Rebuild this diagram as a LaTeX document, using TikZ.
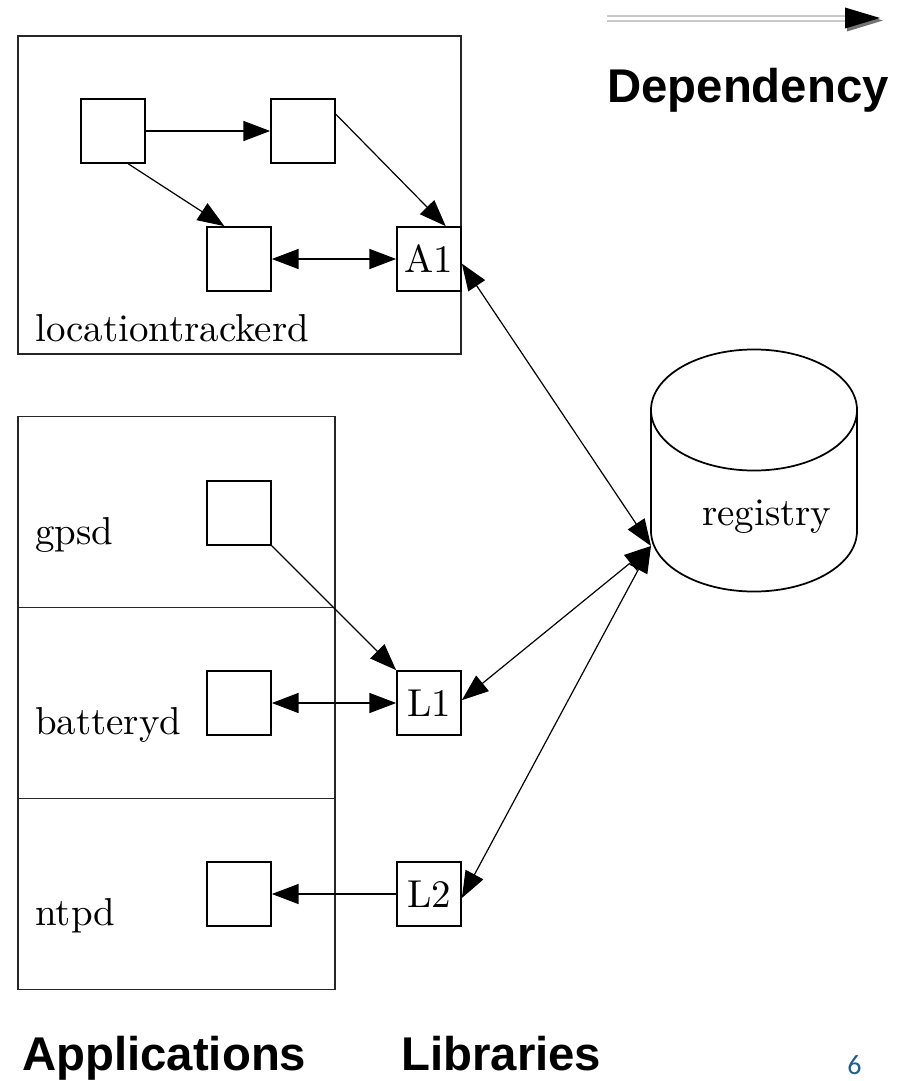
\documentclass[tikz,border=0pt]{standalone}
\usepackage{fontspec}
\newfontfamily\headfont{Liberation Sans}
\newfontfamily\numfont{Carlito}
\newfontfamily\lmten{lmroman10-regular.otf}
\usetikzlibrary{arrows.meta,calc}
\definecolor{pagenum}{RGB}{30,95,145}
\definecolor{legendline}{RGB}{200,200,200}
\newcommand\diagsize{\lmten\fontsize{29.2pt}{34pt}\selectfont}

\begin{document}
\begin{tikzpicture}[x=0.75pt,y=-0.75pt,
  unit/.style={draw, line width=1.3pt, minimum size=48pt, inner sep=0pt, font=\diagsize},
  container/.style={draw=black!85, line width=1.4pt, inner sep=0pt},
  lbl/.style={anchor=base west, inner sep=0pt, font=\diagsize},
  heading/.style={anchor=base west, inner sep=0pt, font=\headfont\bfseries\fontsize{35.5pt}{40pt}\selectfont},
  dep/.style={line width=0.9pt, -{Triangle[length=20pt,width=15pt]}},
  bidep/.style={line width=0.9pt, {Triangle[length=20pt,width=15pt]}-{Triangle[length=20pt,width=15pt]}}]

\useasboundingbox (0,0) rectangle (901,1081);

% legend: dependency arrow
\coordinate (legA) at (607,18.5);
\coordinate (legB) at (850,18.5);
\draw[legendline, line width=1pt, double=white, double distance=2.6pt] (legA) -- (legB);
\fill[black!55] ($(legB)+(-3,-9)$) -- ($(legB)+(33,2)$) -- ($(legB)+(-3,13)$) -- cycle;
\fill[black] ($(legB)+(-5,-11)$) -- ($(legB)+(30,-0.5)$) -- ($(legB)+(-5,10)$) -- cycle;
\node[heading] (deplabel) at (607,103) {Dependency};

% locationtrackerd process
\node[container, minimum width=332.25pt, minimum height=238.5pt] (lt) at (239.5,195) {};
\node[lbl] (ltlabel) at (35,341) {locationtrackerd};
\node[unit] (b1) at (113,131) {};
\node[unit] (b2) at (303,131) {};
\node[unit] (b3) at (239,259) {};
\node[unit] (a1) at (429,259) {A1};

% application panels
\node[container, minimum width=237.75pt, minimum height=143.25pt] (gpsdp) at (176.5,512) {};
\node[container, minimum width=237.75pt, minimum height=143.25pt] (battp) at (176.5,703) {};
\node[container, minimum width=237.75pt, minimum height=143.25pt] (ntpdp) at (176.5,894) {};
\node[lbl] (gpsdlabel) at (35,544) {gpsd};
\node[lbl] (battlabel) at (35,734) {batteryd};
\node[lbl] (ntpdlabel) at (35,925) {ntpd};
\node[unit] (g) at (239,513) {};
\node[unit] (bt) at (239,703) {};
\node[unit] (n) at (239,894) {};

% libraries
\node[unit] (l1) at (429,703) {L1};
\node[unit] (l2) at (429,894) {L2};

% registry cylinder
\draw[line width=1.3pt] (754,410) ellipse [x radius=77.25pt, y radius=45.4pt];
\draw[line width=1.3pt] (651,410) -- (651,531)
  arc[start angle=180, end angle=360, x radius=77.25pt, y radius=45.4pt] -- (857,410);
\node[lbl] (registry) at (702,525) {registry};
\coordinate (regport) at (651,546);

% dependencies
\draw[dep] (b1) -- (b2);
\draw[dep] (b1.-65) -- (b3.114);
\draw[dep] (b2.27) -- (a1.63);
\draw[bidep] (b3) -- (a1);
\draw[bidep] (a1.-8) -- (regport);
\draw[dep] (g.south east) -- (l1.north west);
\draw[bidep] (bt) -- (l1);
\draw[bidep] (l1.5) -- (regport);
\draw[bidep] (l2.-7) -- (regport);
\draw[dep] (l2) -- (n);

% headings
\node[heading] (appslabel) at (22,1070) {Applications};
\node[heading] (libslabel) at (401,1070) {Libraries};
\node[anchor=base west, inner sep=0pt, text=pagenum, font=\numfont\fontsize{21pt}{24pt}\selectfont] (pageno) at (847,1074) {6};
\end{tikzpicture}
\end{document}
